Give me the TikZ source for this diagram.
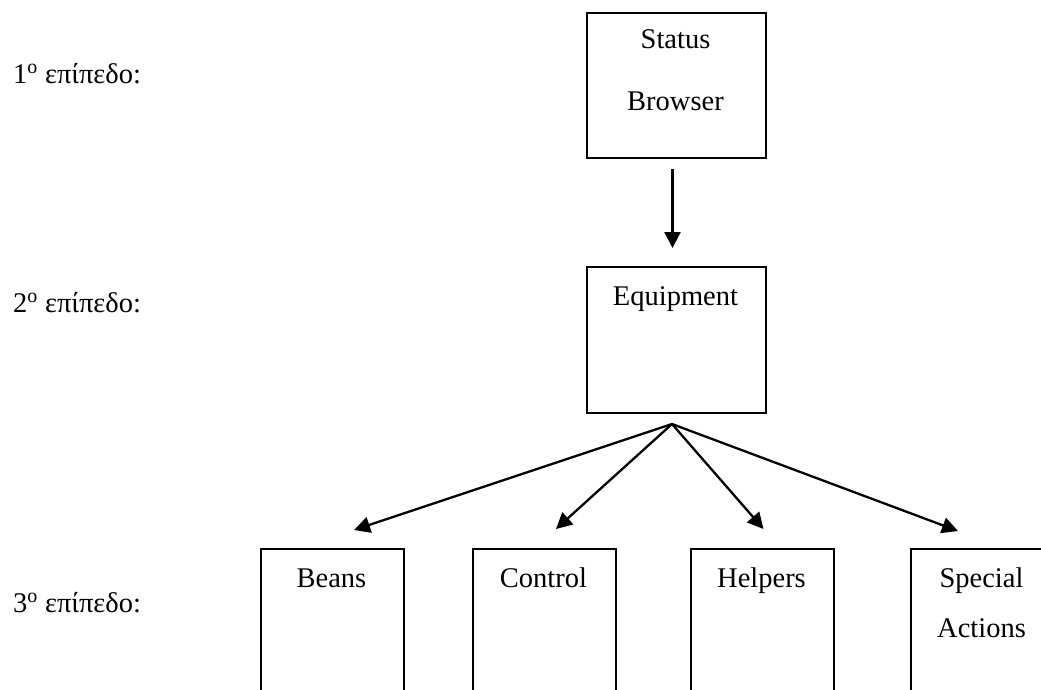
\documentclass[tikz,border=0pt]{standalone}
\usepackage{fontspec}
\setmainfont{Liberation Serif}
\usetikzlibrary{arrows.meta}

\tikzset{
  box/.style={draw=black, line width=2pt, rectangle, inner sep=0pt, anchor=north west},
  lbl/.style={anchor=base, inner sep=0pt, font=\fontsize{28.5}{34}\selectfont},
  lvl/.style={anchor=base west, inner sep=0pt, font=\fontsize{28.5}{34}\selectfont},
  link/.style={line width=2.3pt, -{Triangle[length=16pt,width=16pt]}}
}

\begin{document}
\begin{tikzpicture}[x=1pt, y=-1pt]
  \useasboundingbox (0,0) rectangle (1041,689);
  \clip (0,0) rectangle (1041,689);

  % level captions
  \node[lvl] (lv1) at (13,83)  {1\textsuperscript{ο} επίπεδο:};
  \node[lvl] (lv2) at (13,312) {2\textsuperscript{ο} επίπεδο:};
  \node[lvl] (lv3) at (13,612) {3\textsuperscript{ο} επίπεδο:};

  % level 1
  \node[box, minimum width=179pt, minimum height=145pt] (status) at (586,12) {};
  \node[lbl] (statusA) at (675.5,48)  {Status};
  \node[lbl] (statusB) at (675.5,110) {Browser};

  % level 2
  \node[box, minimum width=179pt, minimum height=146pt] (equip) at (586,266) {};
  \node[lbl] (equipT) at (675.5,305) {Equipment};

  % level 3 (boxes run past the lower edge)
  \node[box, minimum width=143pt, minimum height=200pt] (beans)   at (260,548) {};
  \node[box, minimum width=143pt, minimum height=200pt] (control) at (472,548) {};
  \node[box, minimum width=143pt, minimum height=200pt] (helpers) at (690,548) {};
  \node[box, minimum width=143pt, minimum height=200pt] (special) at (910,548) {};
  \node[lbl] (beansT)   at (331.5,587) {Beans};
  \node[lbl] (controlT) at (543.5,587) {Control};
  \node[lbl] (helpersT) at (761.5,587) {Helpers};
  \node[lbl] (specialA) at (981.5,587) {Special};
  \node[lbl] (specialB) at (981.5,637) {Actions};

  % connector end points
  \coordinate (down1) at ([xshift=-4pt, yshift=-10pt]status.south);
  \coordinate (down2) at ([xshift=-4pt, yshift=18pt]equip.north);
  \coordinate (fan)   at ([xshift=-4.5pt, yshift=-10pt]equip.south);
  \coordinate (tB) at ([xshift=21.5pt, yshift=18pt]beans.north);
  \coordinate (tC) at ([xshift=11.5pt, yshift=19pt]control.north);
  \coordinate (tH) at ([xshift=1pt,    yshift=19pt]helpers.north);
  \coordinate (tS) at ([xshift=-24.5pt,yshift=17pt]special.north);

  % connectors
  \draw[link] (down1) -- (down2);
  \draw[link] (fan) -- (tB);
  \draw[link] (fan) -- (tC);
  \draw[link] (fan) -- (tH);
  \draw[link] (fan) -- (tS);
\end{tikzpicture}
\end{document}
